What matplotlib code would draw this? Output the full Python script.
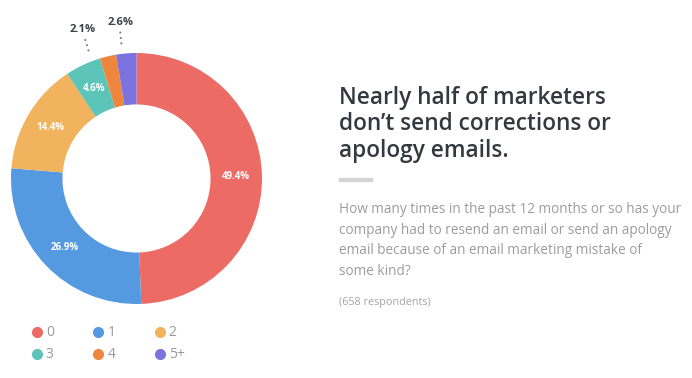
import numpy as np
import matplotlib.pyplot as plt

categories = ['0', '1', '2', '3', '4', '5+']
shares = [49.4, 26.9, 14.4, 4.6, 2.1, 2.6]
colors = ['#ec6b65', '#5599e0', '#f2b35e', '#5cc4b8', '#ee873d', '#7b72de']
outside = [False, False, False, False, True, True]
# where the outside labels sit (data units, radius 1 = outer edge)
outside_pos = {4: ((-0.43, 1.19), (-0.41, 1.11), (-0.38, 1.01)),
               5: ((-0.13, 1.245), (-0.13, 1.17), (-0.12, 1.07))}

title = 'Nearly half of marketers\ndon\u2019t send corrections or\napology emails.'
question = ['How many times in the past 12 months or so has your',
            'company had to resend an email or send an apology',
            'email because of an email marketing mistake of',
            'some kind?']
note = '(658 respondents)'

plt.rcParams['font.family'] = ['Open Sans', 'DejaVu Sans']

W, H = 692, 378
fig = plt.figure(figsize=(W / 100, H / 100), dpi=100)
fig.patch.set_facecolor('white')

# donut axes: box from px (11,53) to (262,304)
ax = fig.add_axes([11 / W, 1 - 304 / H, 251 / W, 251 / H])
wedges, _ = ax.pie(shares, colors=colors, startangle=90, counterclock=False,
                   radius=1.0, wedgeprops=dict(width=0.41, linewidth=0))
ax.set_xlim(-1, 1)
ax.set_ylim(-1, 1)
ax.set_aspect('equal')
ax.axis('off')

cum = np.cumsum([0] + shares)
for i, s in enumerate(shares):
    mid = 90 - 360 * (cum[i] + s / 2) / 100
    if not outside[i]:
        r = 0.795
        ax.text(r * np.cos(np.radians(mid)), r * np.sin(np.radians(mid)),
                f'{s}%', ha='center', va='center', color='white',
                fontsize=7, fontweight='bold')
    else:
        (tx, ty), (l1x, l1y), (l2x, l2y) = outside_pos[i]
        ax.text(tx, ty, f'{s}%', ha='center', va='center', color='#3d4247',
                fontsize=8, fontweight='bold', clip_on=False)
        ax.plot([l1x, l2x], [l1y, l2y], color='#777777', linestyle=(0, (1, 2)),
                linewidth=1.3, clip_on=False)

# legend, row-wise order
order = [0, 3, 1, 4, 2, 5]
handles = [plt.Line2D([], [], marker='o', linestyle='', markersize=8,
                      markerfacecolor=colors[k], markeredgewidth=0) for k in order]
labels = [categories[k] for k in order]
fig.legend(handles, labels, ncol=3, frameon=False, loc='upper left',
           bbox_to_anchor=(16 / W, 1 - 313 / H), fontsize=10,
           labelcolor='#9a9a9a', handletextpad=0.05, columnspacing=2.6,
           labelspacing=0.5, handlelength=1.2)

# right-hand text
fig.text(339 / W, 1 - 86 / H, title, ha='left', va='top', fontsize=16.3,
         color='#33393f', fontweight='semibold', linespacing=1.13)
fig.patches.append(plt.Rectangle((339 / W, 1 - 181 / H), 33 / W, 3 / H,
                                 transform=fig.transFigure, color='#d4d4d4'))
for j, line in enumerate(question):
    fig.text(339 / W, 1 - (213 + 20.7 * j) / H, line, ha='left',
             va='baseline', fontsize=9.8, color='#9c9c9c')
fig.text(339 / W, 1 - 305 / H, note, ha='left', va='baseline',
         fontsize=7.8, color='#a5a5a5')

fig.savefig('out.png', dpi=100, facecolor='white')
